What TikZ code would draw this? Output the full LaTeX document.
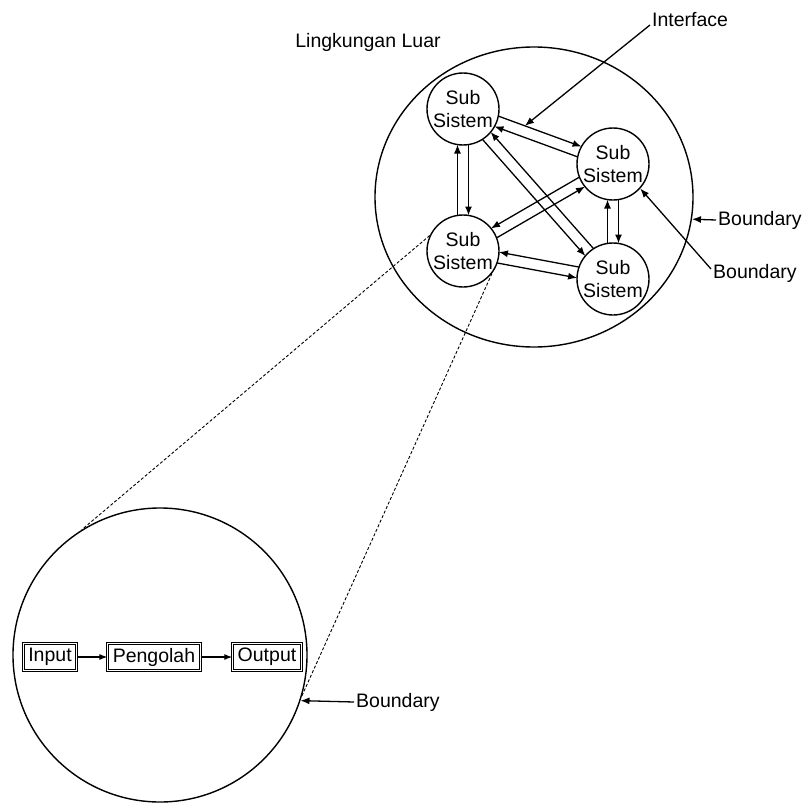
\documentclass[tikz,border=0pt]{standalone}
\usepackage{fontspec}
\setmainfont{Liberation Sans}
\usetikzlibrary{arrows.meta,calc,shapes.geometric}
\newcommand\pairrad{35.5pt}
\newcommand\pairgap{5.5pt}
\newcommand\twoway[4]{%
  \draw[link] ($(#1)!\pairrad!(#2)!\pairgap!#3:(#2)$) -- ($(#2)!\pairrad!(#1)!\pairgap!#4:(#1)$);
  \draw[link] ($(#2)!\pairrad!(#1)!\pairgap!#3:(#1)$) -- ($(#1)!\pairrad!(#2)!\pairgap!#4:(#2)$);}
\begin{document}
\begin{tikzpicture}[x=1pt,y=-1pt,
  every node/.style={font=\fontsize{19.5}{23}\selectfont},
  sub/.style={draw, circle, line width=1.4pt, minimum size=72pt, inner sep=0pt, align=center},
  box/.style={draw, double, double distance=1.3pt, line width=0.8pt, minimum height=27pt, inner xsep=5pt, inner ysep=0pt},
  link/.style={line width=1.3pt, -{Latex[length=9pt,width=7pt]}},
  link2/.style={line width=1.2pt, -{Latex[length=8pt,width=6pt]}},
  lbl/.style={inner sep=2pt},
  zoomline/.style={line width=0.9pt, dash pattern=on 3pt off 2pt}]
\useasboundingbox (0,0) rectangle (804,803);
% outer system
\node[draw, ellipse, line width=1.4pt, minimum width=318pt, minimum height=300pt, inner sep=0pt] (sys) at (534,197) {};
\node[lbl] (env) at (368,42) {Lingkungan Luar};
% subsystems
\node[sub] (TL) at (463,109) {Sub\\Sistem};
\node[sub] (R)  at (613,164) {Sub\\Sistem};
\node[sub] (BL) at (463,251) {Sub\\Sistem};
\node[sub] (BR) at (613,279) {Sub\\Sistem};
\twoway{TL}{BL}{90}{-90}
\twoway{R}{BR}{90}{-90}
\twoway{TL}{R}{90}{-90}
\twoway{TL}{BR}{-90}{90}
\twoway{BL}{R}{-90}{90}
\twoway{BL}{BR}{-90}{90}
% labels with pointers
\node[lbl, anchor=west] (iface) at (650,20) {Interface};
\coordinate (ifc) at ($(TL)!0.4!(R)!\pairgap!90:(R)$);
\draw[link] ([yshift=-5pt]iface.west) -- (ifc);
\node[lbl, anchor=west] (bd1) at (716,220) {Boundary};
\draw[link] (bd1.west) -- (sys.-8.5);
\node[lbl, anchor=west] (bd2) at (711,273) {Boundary};
\draw[link] ([yshift=4pt]bd2.west) -- (R.-42);
% zoomed subsystem
\node[draw, circle, line width=1.4pt, minimum size=294pt, inner sep=0pt] (zoom) at (160,655) {};
\draw[zoomline] (BL.155) -- (zoom.122.6);
\draw[zoomline] (BL.-38) -- (zoom.-16);
\node[box] (in) at (50,657) {Input};
\node[box] (proc) at (154,657) {Pengolah};
\node[box] (out) at (267,657) {Output};
\draw[link2] (in) -- (proc);
\draw[link2] (proc) -- (out);
\node[lbl, anchor=west] (bd3) at (354,702) {Boundary};
\draw[link] (bd3.west) -- (zoom.-18.7);
\end{tikzpicture}
\end{document}
